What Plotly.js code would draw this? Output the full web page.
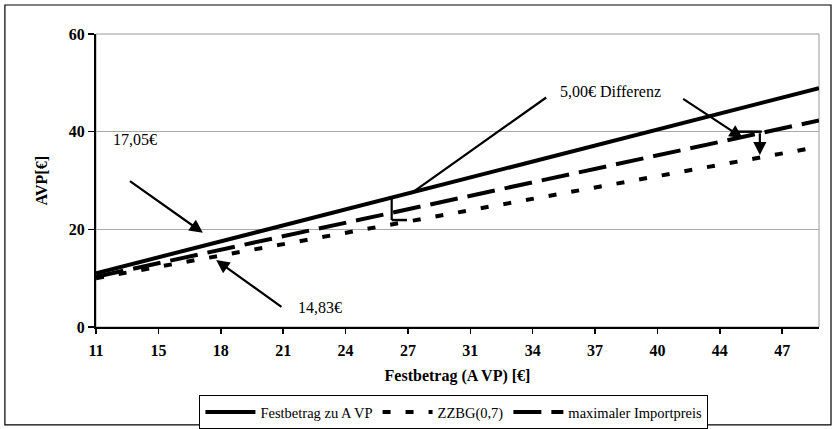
<!DOCTYPE html>
<html>
<head>
<meta charset="utf-8">
<script src="https://cdn.plot.ly/plotly-3.0.1.min.js"></script>
<style>html,body{margin:0;padding:0;background:#fff;}#chart{width:836px;height:429px;}</style>
</head>
<body>
<div id="chart"></div>
<script>
// Festbetrag (AVP) values along the x axis
const festbetrag = [11, 20, 30, 40, 48.9];
// Series values
const festbetragZuAVP = [11, 20, 30, 40, 48.9];
const zzbg = [10.0, 16.4, 23.5, 30.6, 36.9];
const maxImportpreis = [10.3, 17.9, 26.4, 34.8, 42.3];
// Category tick labels shown under the axis
const xTickLabels = ['11','15','18','21','24','27','31','34','37','40','44','47'];
const yTicks = [0, 20, 40, 60];
const seriesNames = ['Festbetrag zu A VP', 'ZZBG(0,7)', 'maximaler Importpreis'];
const xTitle = 'Festbetrag (A VP) [€]';
const yTitle = 'AVP[€]';
// annotation texts
const labelTexts = ['17,05€', '14,83€', '5,00€ Differenz'];

const xStart = 11, xEnd = 48.9, tickStep = 3.27;
const tickVals = xTickLabels.map((_, i) => xStart + i * tickStep);

const font = 'Liberation Serif';

const traces = [
  {x: festbetrag, y: festbetragZuAVP, name: seriesNames[0], mode: 'lines',
   line: {color: '#000', width: 4}},
  {x: festbetrag, y: zzbg, name: seriesNames[1], mode: 'lines',
   line: {color: '#000', width: 4, dash: '8px,15px'}},
  {x: festbetrag, y: maxImportpreis, name: seriesNames[2], mode: 'lines',
   line: {color: '#000', width: 4, dash: '28px,10px'}}
];

const layout = {
  width: 836, height: 429,
  margin: {l: 96, r: 17, t: 34, b: 102},
  paper_bgcolor: '#fff', plot_bgcolor: '#fff',
  font: {family: font, color: '#000', size: 16},
  showlegend: true,
  legend: {orientation: 'h', xref: 'container', yref: 'container',
           x: 0.543, xanchor: 'center', y: 0.079, yanchor: 'top',
           bordercolor: '#000', borderwidth: 1, font: {family: font, size: 14.5, color: '#000'},
           itemwidth: 50, tracegroupgap: 0},
  xaxis: {
    range: [xStart, xEnd], tickmode: 'array', tickvals: tickVals, ticktext: xTickLabels,
    ticks: 'outside', ticklen: 5, tickwidth: 1.5, tickcolor: '#000', ticklabelstandoff: 3,
    showline: true, linecolor: '#000', linewidth: 2, showgrid: false, zeroline: false,
    automargin: false,
    tickfont: {family: font, size: 16, weight: 'bold', color: '#000'},
    title: {text: xTitle, font: {family: font, size: 16, weight: 'bold', color: '#000'}, standoff: 12}
  },
  yaxis: {
    range: [0, 60], tickmode: 'array', tickvals: yTicks,
    ticks: 'outside', ticklen: 6, tickwidth: 1.5, tickcolor: '#000',
    showline: true, linecolor: '#000', linewidth: 2, automargin: false,
    showgrid: true, gridcolor: '#a8a8a8', gridwidth: 1, zeroline: false,
    tickfont: {family: font, size: 16, weight: 'bold', color: '#000'}
  },
  shapes: [
    {type: 'rect', xref: 'paper', yref: 'paper', x0: -0.126, x1: 1.0166, y0: -0.334, y1: 1.099,
     line: {color: '#000', width: 1.2}},
    {type: 'rect', xref: 'paper', yref: 'paper', x0: 0, x1: 1, y0: 0, y1: 1,
     line: {color: '#999', width: 1}, layer: 'below'},
    // leader line of "5,00€ Differenz" to the solid line
    {type: 'line', xref: 'x', yref: 'y', x0: 34.6, y0: 47.0, x1: 27.5, y1: 27.3,
     line: {color: '#000', width: 2.2}},
    // first 5,00€ gap marker
    {type: 'line', xref: 'x', yref: 'y', x0: 26.5, y0: 26.4, x1: 26.5, y1: 21.9,
     line: {color: '#000', width: 2.2}},
    {type: 'line', xref: 'x', yref: 'y', x0: 26.5, y0: 21.9, x1: 27.3, y1: 21.9,
     line: {color: '#000', width: 2.5}},
    {type: 'line', xref: 'x', yref: 'y', x0: 44.4, y0: 40.0, x1: 45.9, y1: 40.0,
     line: {color: '#000', width: 2.5}}
  ],
  annotations: [
    // y axis title
    {xref: 'paper', yref: 'paper', x: -0.0747, y: 0.5, xanchor: 'center', yanchor: 'middle',
     text: yTitle, textangle: -90,
     showarrow: false, font: {family: font, size: 16, weight: 'bold', color: '#000'}},
    {xref: 'x', yref: 'y', x: 13.05, y: 38.3, text: labelTexts[0], showarrow: false,
     font: {family: font, size: 16}},
    {xref: 'x', yref: 'y', x: 22.75, y: 3.9, text: labelTexts[1], showarrow: false,
     font: {family: font, size: 16}},
    {xref: 'x', yref: 'y', x: 37.95, y: 48.3, text: labelTexts[2], showarrow: false,
     font: {family: font, size: 16}},
    // arrows
    {xref: 'x', yref: 'y', axref: 'x', ayref: 'y', x: 16.6, y: 19.3, ax: 12.7, ay: 30.1,
     text: '', showarrow: true, arrowhead: 2, arrowsize: 1.2, arrowwidth: 2.2, arrowcolor: '#000'},
    {xref: 'x', yref: 'y', axref: 'x', ayref: 'y', x: 17.3, y: 13.7, ax: 20.8, ay: 3.9,
     text: '', showarrow: true, arrowhead: 2, arrowsize: 1.2, arrowwidth: 2.2, arrowcolor: '#000'},
    {xref: 'x', yref: 'y', axref: 'x', ayref: 'y', x: 44.9, y: 38.7, ax: 41.7, ay: 46.9,
     text: '', showarrow: true, arrowhead: 2, arrowsize: 1.2, arrowwidth: 2.2, arrowcolor: '#000'},
    {xref: 'x', yref: 'y', axref: 'x', ayref: 'y', x: 45.8, y: 35.2, ax: 45.8, ay: 40.0,
     text: '', showarrow: true, arrowhead: 2, arrowsize: 1.2, arrowwidth: 2.2, arrowcolor: '#000'}
  ]
};

Plotly.newPlot('chart', traces, layout, {staticPlot: true, displayModeBar: false});
</script>
</body>
</html>
